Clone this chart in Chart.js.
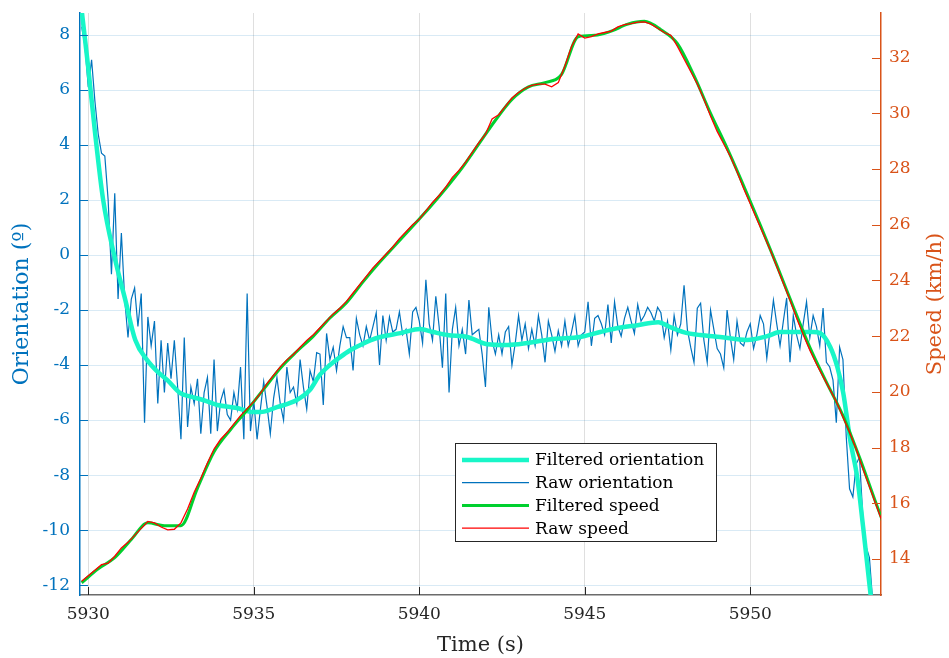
<!DOCTYPE html>
<html>
<head>
<meta charset="utf-8">
<script src="https://cdn.jsdelivr.net/npm/chart.js@4/dist/chart.umd.min.js"></script>
<style>
  html, body { margin: 0; padding: 0; background: #ffffff; }
  #wrap { width: 949px; height: 658px; position: relative; }
</style>
</head>
<body>
<div id="wrap"><canvas id="chart"></canvas></div>
<script>
// ---- tick labels ----
const timeTicks = [5930, 5935, 5940, 5945, 5950];
const orientTicks = [-12, -10, -8, -6, -4, -2, 0, 2, 4, 6, 8];
const speedTicks = [14, 16, 18, 20, 22, 24, 26, 28, 30, 32];

// ---- raw orientation (º), sampled every 0.1 s from 5929.8 s ----
const rawOrientStart = 5929.8;
const rawOrientStep = 0.1;
const rawOrientation = [
  8.3, 7.6,
  6.1, 7.1, 5.6, 4.4, 3.7, 3.6, 2.0, -0.7, 2.25, -1.6,
  0.8, -1.6, -3.0, -1.6, -1.2, -2.6, -1.4, -6.1, -2.25, -3.3,
  -2.4, -5.4, -3.1, -5.0, -3.2, -4.5, -3.1, -4.8, -6.7, -3.0,
  -6.25, -4.8, -5.4, -4.5, -6.5, -5.0, -4.45, -6.5, -3.8, -6.4,
  -5.3, -4.9, -5.8, -6.0, -5.0, -5.6, -4.07, -6.7, -1.4, -6.4,
  -5.3, -6.7, -5.6, -4.6, -5.5, -6.5, -5.2, -4.45, -5.4, -6.0,
  -4.07, -5.0, -4.8, -5.4, -3.8, -4.8, -5.6, -4.2, -4.6, -3.55,
  -3.6, -5.45, -2.85, -3.8, -3.35, -4.2, -3.3, -2.6, -3.0, -3.0,
  -4.2, -2.3, -2.9, -3.3, -2.6, -3.1, -2.6, -2.1, -4.0, -2.2,
  -3.1, -2.25, -2.8, -2.7, -2.07, -2.9, -2.7, -3.6, -2.07, -1.9,
  -2.4, -3.2, -0.9, -2.5, -3.1, -1.5, -2.6, -4.1, -1.4, -5.0,
  -2.7, -1.9, -3.3, -2.7, -3.6, -1.64, -2.9, -2.8, -2.7, -3.6,
  -4.8, -1.9, -3.1, -3.6, -2.9, -3.6, -2.8, -2.6, -4.0, -3.2,
  -2.2, -3.1, -2.5, -3.4, -2.7, -3.3, -2.2, -2.9, -3.9, -2.4,
  -2.9, -3.5, -2.75, -3.3, -2.4, -3.3, -2.8, -2.2, -3.3, -2.9,
  -2.8, -1.7, -3.3, -2.3, -2.2, -2.5, -2.9, -1.8, -3.2, -1.7,
  -2.6, -2.95, -2.3, -1.9, -2.4, -2.85, -1.8, -2.4, -2.2, -1.9,
  -2.1, -2.4, -1.9, -2.1, -3.0, -2.4, -3.45, -2.2, -2.9, -2.5,
  -1.1, -2.7, -3.35, -3.9, -1.93, -1.75, -3.1, -3.9, -2.0, -2.7,
  -3.4, -3.6, -4.1, -2.0, -3.0, -3.8, -2.4, -3.2, -3.3, -2.8,
  -2.5, -3.4, -2.9, -2.2, -2.5, -3.75, -2.7, -1.64, -2.5, -3.3,
  -2.4, -1.56, -3.9, -2.2, -2.9, -3.4, -2.5, -1.7, -3.0, -2.2,
  -2.6, -3.3, -1.93, -3.9, -4.07, -4.55, -6.1, -3.35, -3.8, -6.6,
  -8.5, -8.8, -7.6, -7.35, -9.5, -10.6, -11.0, -12.6
];

// ---- filtered orientation (º) ----
const filtOrientTime = [
  5929.8, 5930.0, 5930.2, 5930.45, 5930.8, 5931.12, 5931.42, 5931.78, 5932.1, 5932.39,
  5932.78, 5933.1, 5933.47, 5933.9, 5934.5, 5934.98, 5935.2, 5935.7, 5936.3, 5936.7,
  5937.0, 5937.3, 5937.61, 5937.9, 5938.22, 5938.52, 5938.82, 5939.43, 5940.03, 5940.42,
  5940.85, 5941.45, 5942.05, 5942.66, 5943.26, 5944.05, 5944.86, 5945.47, 5945.86, 5946.59,
  5947.22, 5947.58, 5947.98, 5948.49, 5949.09, 5949.91, 5950.51, 5950.91, 5951.9, 5952.11,
  5952.42, 5952.63, 5952.81, 5953.02, 5953.23, 5953.41, 5953.63, 5953.7
];
const filtOrientation = [
  8.9, 6.8, 4.5, 2.0, -0.1, -1.64, -3.09, -3.82, -4.25, -4.55,
  -5.02, -5.15, -5.27, -5.45, -5.56, -5.71, -5.71, -5.53, -5.27, -4.9,
  -4.35, -4.0, -3.71, -3.47, -3.27, -3.1, -2.98, -2.84, -2.69, -2.8,
  -2.91, -2.98, -3.24, -3.27, -3.2, -3.05, -2.98, -2.8, -2.69, -2.55,
  -2.44, -2.62, -2.8, -2.91, -2.98, -3.09, -2.95, -2.8, -2.8, -2.84,
  -3.35, -4.07, -5.02, -6.73, -8.07, -9.89, -12.29, -13.1
];

// ---- raw speed (km/h), sampled every 0.2 s from 5929.8 s ----
const rawSpeedStart = 5929.8;
const rawSpeedStep = 0.2;
const rawSpeed = [
  13.2,
  13.4, 13.6, 13.8, 13.85, 14.1,
  14.4, 14.6, 14.85, 15.1, 15.35,
  15.3, 15.15, 15.05, 15.07, 15.3,
  15.8, 16.4, 16.9, 17.45, 17.95,
  18.3, 18.55, 18.85, 19.15, 19.4,
  19.65, 19.95, 20.3, 20.6, 20.9,
  21.15, 21.35, 21.6, 21.85, 22.05,
  22.3, 22.55, 22.8, 23.0, 23.25,
  23.55, 23.85, 24.15, 24.45, 24.7,
  24.95, 25.2, 25.5, 25.75, 26.0,
  26.2, 26.5, 26.8, 27.05, 27.35,
  27.7, 27.95, 28.25, 28.6, 28.95,
  29.25, 29.8, 29.95, 30.25, 30.55,
  30.75, 30.9, 31.0, 31.05, 31.05,
  30.95, 31.1, 31.7, 32.4, 32.85,
  32.7, 32.75, 32.85, 32.9, 32.95,
  33.1, 33.18, 33.22, 33.27, 33.28,
  33.2, 33.05, 32.9, 32.8, 32.4,
  31.95, 31.5, 31.05, 30.5, 29.9,
  29.35, 28.9, 28.45, 27.9, 27.3,
  26.75, 26.2, 25.65, 25.1, 24.5,
  23.9, 23.3, 22.65, 22.05, 21.5,
  21.0, 20.55, 20.1, 19.65, 19.1,
  18.55, 17.95, 17.25, 16.6, 15.95,
  15.3
];

// ---- filtered speed (km/h), every 0.5 s from 5929.8 s ----
const filtSpeedStart = 5929.8;
const filtSpeedStep = 0.5;
const filtSpeed = [
  13.15, 13.65, 14.05, 14.7, 15.3, 15.2, 15.2, 16.55, 17.85, 18.65,
  19.35, 20.1, 20.85, 21.45, 22.0, 22.65, 23.2, 23.95, 24.65, 25.3,
  25.95, 26.6, 27.3, 28.05, 28.9, 29.75, 30.5, 30.95, 31.1, 31.4,
  32.75, 32.8, 32.95, 33.2, 33.3, 33.0, 32.5, 31.35, 30.0, 28.75,
  27.4, 26.0, 24.55, 23.05, 21.6, 20.35, 19.15, 17.65, 16.0, 14.4
];

// ---- axis ranges ----
const timeRange = [5929.75, 5953.95];
const orientRange = [-12.36, 8.8];
const speedRange = [12.71, 33.6];

// ---- colours ----
const COL_ORIENT_AXIS = '#0072BD';
const COL_SPEED_AXIS = '#D95319';
const COL_TIME_AXIS = '#262626';

const FONT = '"DejaVu Serif", "Liberation Serif", serif';

function sampled(start, step, values) {
  return values.map((v, i) => ({ x: Math.round((start + i * step) * 1000) / 1000, y: v }));
}
function paired(xs, ys) {
  return xs.map((x, i) => ({ x: x, y: ys[i] }));
}

// inward tick marks, right-hand axis title and the boxed legend
const decorations = {
  id: 'decorations',
  afterDatasetsDraw(chart) {
    const ctx = chart.ctx;
    const area = chart.chartArea;
    const sx = chart.scales.x, sy = chart.scales.y, sy2 = chart.scales.y2;
    ctx.save();
    ctx.lineWidth = 1;
    // left ticks
    ctx.strokeStyle = COL_ORIENT_AXIS;
    orientTicks.forEach(v => {
      const y = Math.round(sy.getPixelForValue(v)) + 0.5;
      ctx.beginPath(); ctx.moveTo(area.left, y); ctx.lineTo(area.left + 8, y); ctx.stroke();
    });
    // right ticks
    ctx.strokeStyle = COL_SPEED_AXIS;
    speedTicks.forEach(v => {
      const y = Math.round(sy2.getPixelForValue(v)) + 0.5;
      ctx.beginPath(); ctx.moveTo(area.right - 9, y); ctx.lineTo(area.right, y); ctx.stroke();
    });
    // bottom ticks
    ctx.strokeStyle = COL_TIME_AXIS;
    timeTicks.forEach(v => {
      const x = Math.round(sx.getPixelForValue(v)) + 0.5;
      ctx.beginPath(); ctx.moveTo(x, area.bottom); ctx.lineTo(x, area.bottom - 8); ctx.stroke();
    });

    // right axis title, reading upwards
    ctx.fillStyle = COL_SPEED_AXIS;
    ctx.font = '21px ' + FONT;
    ctx.textAlign = 'center';
    ctx.textBaseline = 'middle';
    ctx.translate(936, (area.top + area.bottom) / 2);
    ctx.rotate(-Math.PI / 2);
    ctx.fillText('Speed (km/h)', 0, 0);
    ctx.restore();

    // legend
    ctx.save();
    const bx = 455.5, by = 443.5, bw = 261, bh = 98;
    ctx.fillStyle = '#ffffff';
    ctx.fillRect(bx, by, bw, bh);
    ctx.strokeStyle = '#262626';
    ctx.lineWidth = 1;
    ctx.strokeRect(bx, by, bw, bh);
    ctx.font = '17px ' + FONT;
    ctx.textAlign = 'left';
    ctx.textBaseline = 'middle';
    chart.data.datasets.forEach((ds, i) => {
      const y = 460 + i * 22.7;
      ctx.strokeStyle = ds.borderColor;
      ctx.lineWidth = ds.borderWidth;
      ctx.beginPath(); ctx.moveTo(462, y); ctx.lineTo(529, y); ctx.stroke();
      ctx.fillStyle = '#000000';
      ctx.fillText(ds.label, 535, y + 1);
    });
    ctx.restore();
  }
};

const fixedTicks = list => scale => { scale.ticks = list.map(v => ({ value: v })); };
// fixed axis box sizes; the label overhang padding is dropped so the plot area is set by the layout padding
const fixVertical = w => s => { s.width = w; s.paddingTop = 0; s.paddingBottom = 0; };
const fixHorizontal = h => s => { s.height = h; s.paddingLeft = 0; s.paddingRight = 0; };

new Chart(document.getElementById('chart'), {
  type: 'line',
  data: {
    datasets: [
      {
        label: 'Filtered orientation',
        data: paired(filtOrientTime, filtOrientation),
        yAxisID: 'y',
        borderColor: 'rgb(24,246,200)',
        borderWidth: 4.5,
        pointRadius: 0,
        cubicInterpolationMode: 'monotone',
        clip: 0,
        order: 2
      },
      {
        label: 'Raw orientation',
        data: sampled(rawOrientStart, rawOrientStep, rawOrientation),
        yAxisID: 'y',
        borderColor: '#0072BD',
        borderWidth: 1.2,
        pointRadius: 0,
        clip: 0,
        order: 3
      },
      {
        label: 'Filtered speed',
        data: sampled(filtSpeedStart, filtSpeedStep, filtSpeed),
        yAxisID: 'y2',
        borderColor: '#00D02E',
        borderWidth: 3,
        pointRadius: 0,
        cubicInterpolationMode: 'monotone',
        clip: 0,
        order: 1
      },
      {
        label: 'Raw speed',
        data: sampled(rawSpeedStart, rawSpeedStep, rawSpeed),
        yAxisID: 'y2',
        borderColor: '#FF0000',
        borderWidth: 1.3,
        pointRadius: 0,
        clip: 0,
        order: 0
      }
    ]
  },
  options: {
    responsive: true,
    maintainAspectRatio: false,
    animation: false,
    layout: { padding: { top: 13, left: 0, right: 0, bottom: 0 } },
    plugins: { legend: { display: false }, tooltip: { enabled: false } },
    scales: {
      x: {
        type: 'linear',
        position: 'bottom',
        min: timeRange[0],
        max: timeRange[1],
        afterBuildTicks: fixedTicks(timeTicks),
        afterFit: fixHorizontal(63),
        ticks: {
          color: COL_TIME_AXIS,
          font: { family: FONT, size: 17 },
          padding: 9,
          maxRotation: 0,
          autoSkip: false,
          callback: v => String(v)
        },
        grid: { color: 'rgba(38,38,38,0.15)', lineWidth: 1, drawTicks: false },
        border: { color: '#6b6b6b', width: 1.5 },
        title: {
          display: true,
          text: 'Time (s)',
          color: COL_TIME_AXIS,
          font: { family: FONT, size: 21 },
          padding: { top: 0, bottom: 0 }
        }
      },
      y: {
        type: 'linear',
        position: 'left',
        min: orientRange[0],
        max: orientRange[1],
        afterBuildTicks: fixedTicks(orientTicks),
        afterFit: fixVertical(80),
        ticks: {
          color: COL_ORIENT_AXIS,
          font: { family: FONT, size: 17 },
          padding: 10,
          autoSkip: false,
          callback: v => String(v)
        },
        grid: { color: 'rgba(0,114,189,0.15)', lineWidth: 1, drawTicks: false },
        border: { color: COL_ORIENT_AXIS, width: 1.5 },
        title: {
          display: true,
          text: 'Orientation (º)',
          color: COL_ORIENT_AXIS,
          font: { family: FONT, size: 22 },
          padding: { top: 9, bottom: 0 }
        }
      },
      y2: {
        type: 'linear',
        position: 'right',
        min: speedRange[0],
        max: speedRange[1],
        afterBuildTicks: fixedTicks(speedTicks),
        afterFit: fixVertical(68),
        ticks: {
          color: COL_SPEED_AXIS,
          font: { family: FONT, size: 17 },
          padding: 8,
          autoSkip: false,
          callback: v => String(v)
        },
        grid: { drawOnChartArea: false, drawTicks: false },
        border: { color: COL_SPEED_AXIS, width: 1.5 }
      }
    }
  },
  plugins: [decorations]
});
</script>
</body>
</html>
